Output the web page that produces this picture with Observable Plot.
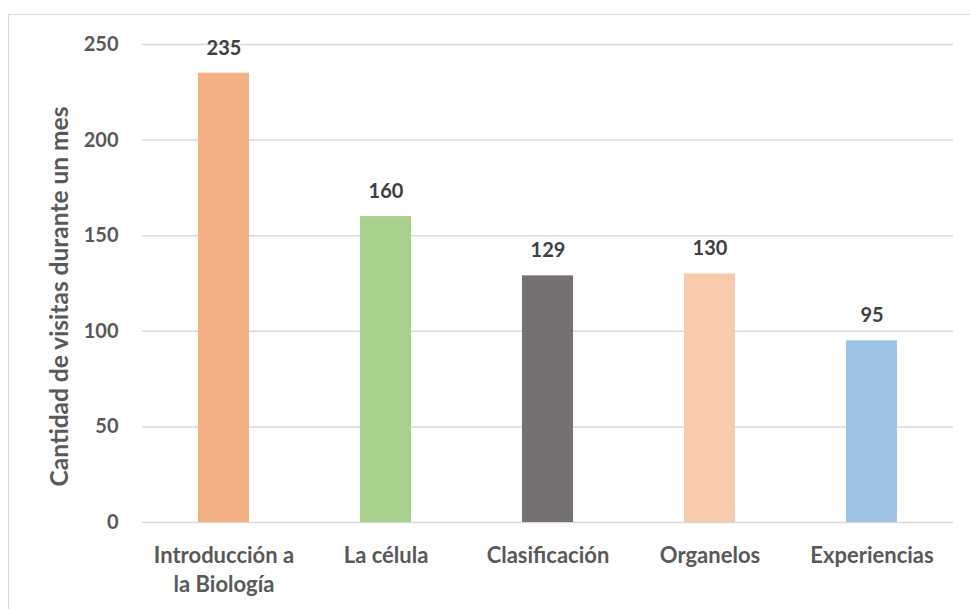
<!DOCTYPE html>
<html>
<head>
<meta charset="utf-8">
<script src="https://cdn.jsdelivr.net/npm/d3@7"></script>
<script src="https://cdn.jsdelivr.net/npm/@observablehq/plot@0.6"></script>
<style>
  html, body { margin: 0; padding: 0; background: #fff; }
  #wrap { position: relative; width: 970px; height: 609px; overflow: hidden; }
  #border { position: absolute; left: 8px; top: 14px; width: 1000px; height: 700px;
            border: 1.5px solid #d9d9d9; box-sizing: border-box; pointer-events: none; }
  svg { font-family: Lato, "Open Sans", sans-serif; }
</style>
</head>
<body>
<div id="wrap"><div id="border"></div></div>
<script>
const categories = ["Introducción a\nla Biología", "La célula", "Clasificación", "Organelos", "Experiencias"];
const values = [235, 160, 129, 130, 95];
const colors = ["#F4B183", "#A9D18E", "#767171", "#F8CBAD", "#9DC3E6"];
const yTicks = [0, 50, 100, 150, 200, 250];
const yTitle = "Cantidad de visitas durante un mes";

const data = categories.map((c, i) => ({category: c, value: values[i], color: colors[i]}));

const chart = Plot.plot({
  width: 970,
  height: 609,
  marginLeft: 142,
  marginRight: 17,
  marginTop: 44,
  marginBottom: 87,
  style: {fontFamily: "Lato, 'Open Sans', sans-serif", background: "transparent"},
  x: {domain: categories, paddingInner: 0.686, paddingOuter: 0.343},
  y: {domain: [0, 250]},
  marks: [
    Plot.gridY(yTicks, {stroke: "#d9d9d9", strokeOpacity: 1, strokeWidth: 1.5}),
    Plot.barY(data, {x: "category", y: "value", fill: "color"}),
    Plot.text(data, {x: "category", y: "value", text: d => String(d.value), dy: -25,
      fill: "#404040", fontWeight: "bold", fontSize: 20}),
    Plot.axisY(yTicks, {tickSize: 0, tickPadding: 24, fill: "#595959", fontWeight: "bold", fontSize: 20,
      label: null}),
    Plot.axisX({tickSize: 0, tickPadding: 20, fill: "#595959", fontWeight: "bold", fontSize: 22,
      lineHeight: 1.32, textAnchor: "middle", lineAnchor: "top", label: null}),
    Plot.text([yTitle], {frameAnchor: "left", dx: -82, dy: 13, rotate: -90, text: d => d, textAnchor: "middle",
      fill: "#595959", fontWeight: "bold", fontSize: 24.5})
  ]
});
document.getElementById("wrap").appendChild(chart);
</script>
</body>
</html>
